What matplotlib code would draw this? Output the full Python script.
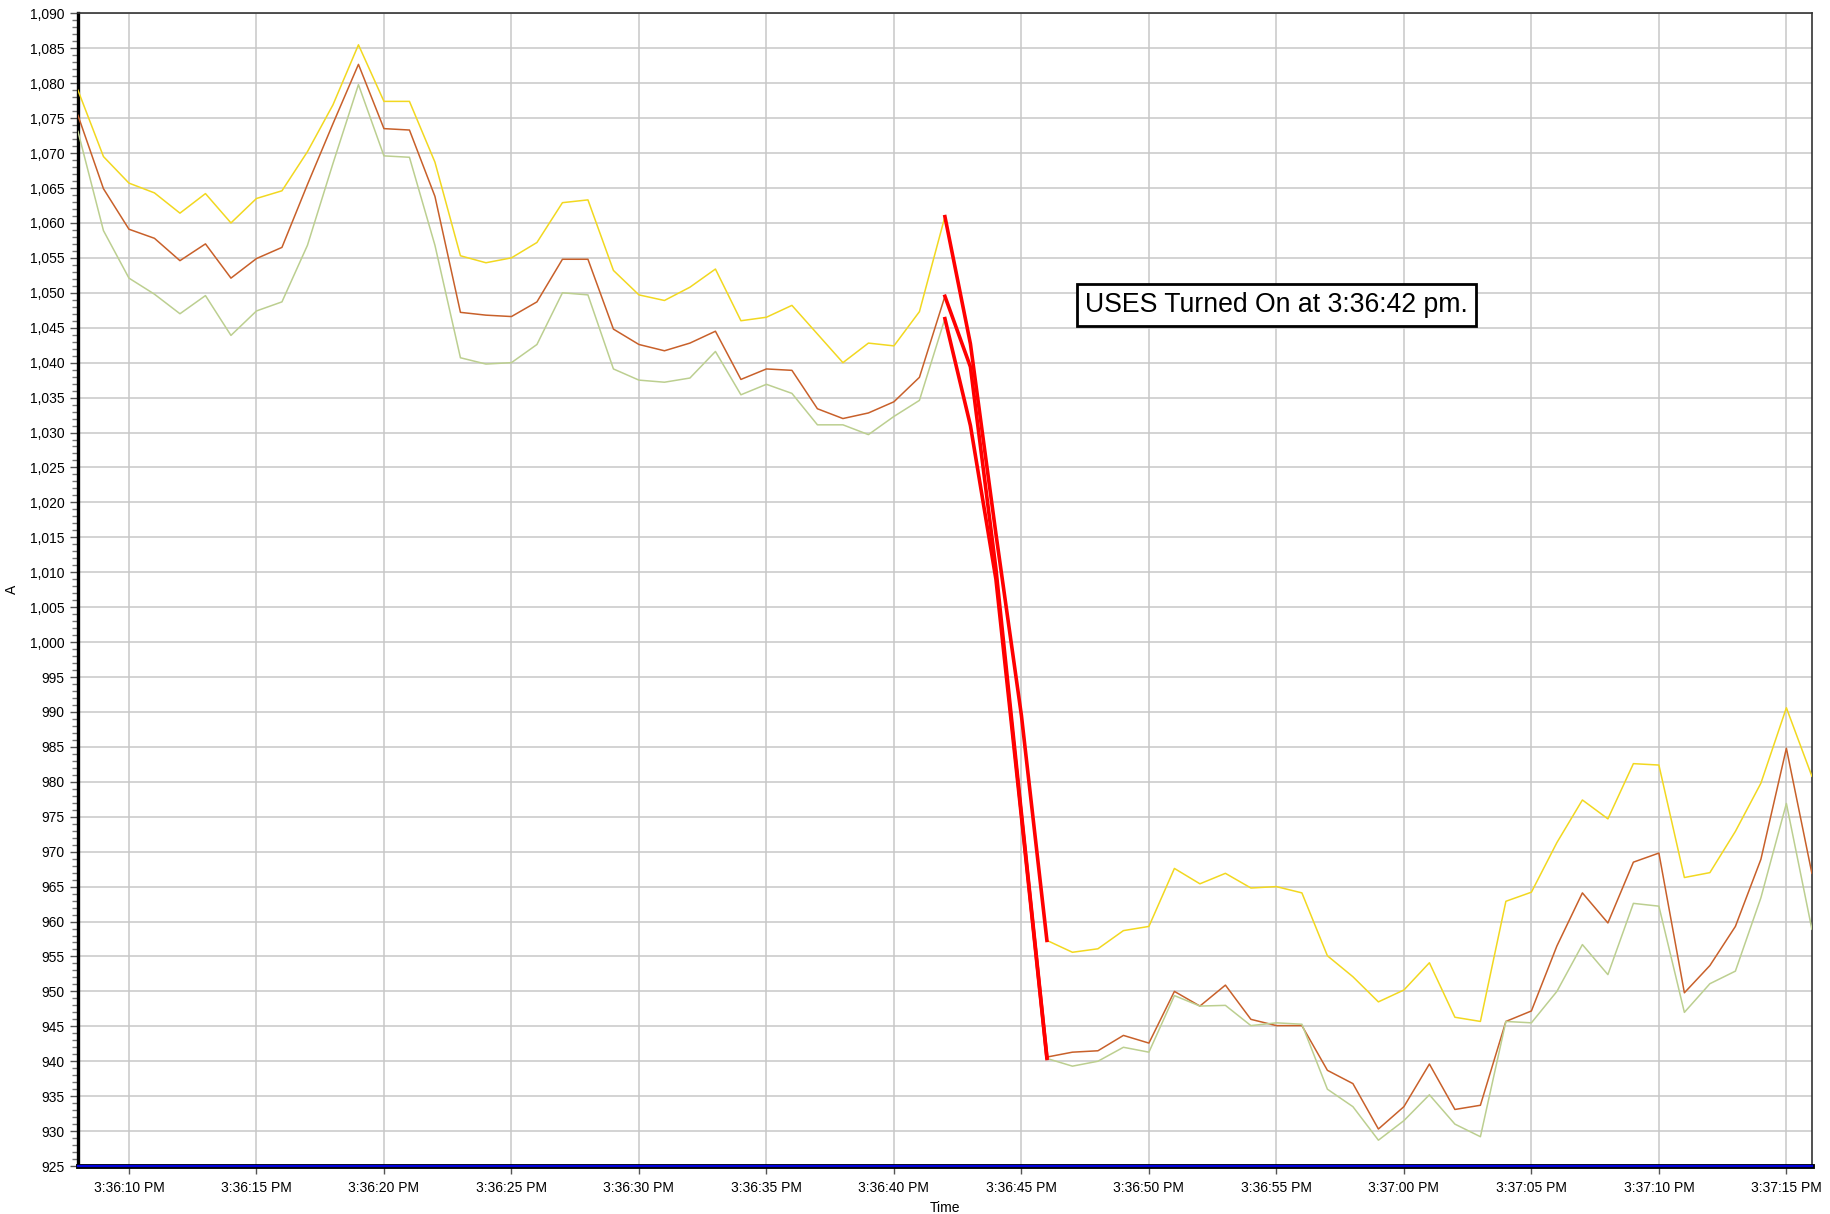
import matplotlib
matplotlib.use('Agg')
import matplotlib.pyplot as plt
import matplotlib.dates as mdates
from matplotlib.ticker import MultipleLocator, FuncFormatter
import pandas as pd

plt.rcParams['font.family'] = ['Liberation Sans', 'DejaVu Sans']

# one sample per second, 3:36:08 PM .. 3:37:16 PM
times = pd.date_range('2000-01-01 15:36:08', periods=69, freq='s')

phase_yellow = [1079.0, 1069.5, 1065.7, 1064.3, 1061.4, 1064.2, 1060.0, 1063.5, 1064.6, 1070.2,
                1076.9, 1085.5, 1077.4, 1077.4, 1068.7, 1055.3, 1054.3, 1055.0, 1057.2, 1062.9,
                1063.3, 1053.2, 1049.7, 1048.9, 1050.8, 1053.4, 1046.0, 1046.5, 1048.2, 1044.1,
                1040.0, 1042.8, 1042.4, 1047.3, 1060.9, 1042.7, 1015.5, 989.5, 957.3, 955.6,
                956.1, 958.7, 959.3, 967.6, 965.4, 966.9, 964.8, 965.0, 964.1, 955.1,
                952.1, 948.5, 950.2, 954.1, 946.3, 945.7, 962.9, 964.2, 971.3, 977.4,
                974.7, 982.6, 982.4, 966.3, 967.0, 972.9, 979.8, 990.6, 980.8]

phase_orange = [1075.4, 1064.9, 1059.1, 1057.8, 1054.6, 1057.0, 1052.1, 1054.9, 1056.5, 1065.5,
                1074.2, 1082.7, 1073.5, 1073.3, 1063.8, 1047.2, 1046.8, 1046.6, 1048.7, 1054.8,
                1054.8, 1044.8, 1042.6, 1041.7, 1042.8, 1044.5, 1037.6, 1039.1, 1038.9, 1033.4,
                1032.0, 1032.8, 1034.4, 1037.9, 1049.5, 1039.4, 1010.5, 975.5, 940.6, 941.3,
                941.5, 943.7, 942.6, 950.0, 947.9, 950.9, 946.0, 945.1, 945.1, 938.7,
                936.8, 930.3, 933.5, 939.6, 933.1, 933.7, 945.7, 947.2, 956.5, 964.1,
                959.8, 968.5, 969.8, 949.8, 953.7, 959.3, 968.9, 984.8, 966.9]

phase_green = [1073.1, 1058.9, 1052.1, 1049.8, 1047.0, 1049.6, 1043.9, 1047.4, 1048.7, 1056.8,
               1068.5, 1079.8, 1069.6, 1069.4, 1056.8, 1040.7, 1039.8, 1040.0, 1042.6, 1050.0,
               1049.7, 1039.1, 1037.5, 1037.2, 1037.8, 1041.6, 1035.4, 1036.9, 1035.6, 1031.1,
               1031.1, 1029.7, 1032.3, 1034.6, 1046.3, 1031.0, 1009.0, 975.0, 940.4, 939.3,
               940.0, 942.0, 941.3, 949.4, 947.9, 948.0, 945.1, 945.5, 945.3, 936.0,
               933.5, 928.7, 931.5, 935.2, 931.0, 929.2, 945.7, 945.5, 950.0, 956.7,
               952.4, 962.6, 962.2, 947.0, 951.1, 952.9, 963.4, 976.9, 958.9]

# USES switch-over window highlighted in red (3:36:42 .. 3:36:46)
hl_start, hl_end = 34, 38
note_text = 'USES Turned On at 3:36:42 pm.'

fig = plt.figure(figsize=(18.3, 12.14), dpi=100)
ax = fig.add_axes([0.0426, 0.0395, 0.9475, 0.9495])

series = [(phase_yellow, '#f2d820'), (phase_orange, '#c8602a'), (phase_green, '#bccf90')]
for vals, col in series:
    ax.plot(times, vals, color=col, lw=1.1, zorder=3)
for vals, col in series:
    ax.plot(times[hl_start:hl_end + 1], vals[hl_start:hl_end + 1], color='#ff0000', lw=2.6,
            zorder=4, solid_joinstyle='miter')

ax.set_xlim(times[0], times[-1])
ax.set_ylim(925, 1090)

ax.yaxis.set_major_locator(MultipleLocator(5))
ax.yaxis.set_minor_locator(MultipleLocator(1))
ax.yaxis.set_major_formatter(FuncFormatter(lambda v, p: f'{v:,.0f}'))
ax.xaxis.set_major_locator(mdates.SecondLocator(bysecond=range(0, 60, 5)))
ax.xaxis.set_major_formatter(mdates.DateFormatter('%-I:%M:%S %p'))

ax.grid(True, which='major', color='#c8c8c8', lw=1.1, zorder=0)
ax.tick_params(axis='both', which='major', labelsize=10, colors='#555555', labelcolor='black',
               length=6, width=1)
ax.tick_params(axis='y', which='minor', length=4, width=1, colors='#777777')
ax.tick_params(axis='x', pad=5)

ax.set_xlabel('Time', fontsize=10, labelpad=4)
ax.set_ylabel('A', fontsize=10, labelpad=8)

ax.spines['left'].set_linewidth(2.4)
ax.spines['left'].set_color('black')
for s in ('top', 'right'):
    ax.spines[s].set_linewidth(1.2)
    ax.spines[s].set_color('#333333')
ax.spines['bottom'].set_linewidth(3.5)
ax.spines['bottom'].set_color('black')
ax.axhline(925, color='#0000dd', lw=1.6, zorder=6, clip_on=False)

ax.text(times[47], 1048.3, note_text, fontsize=19.2, ha='center', va='center', zorder=7,
        bbox=dict(boxstyle='square,pad=0.3', facecolor='white', edgecolor='black', lw=2))

fig.savefig('out.png', dpi=100)
